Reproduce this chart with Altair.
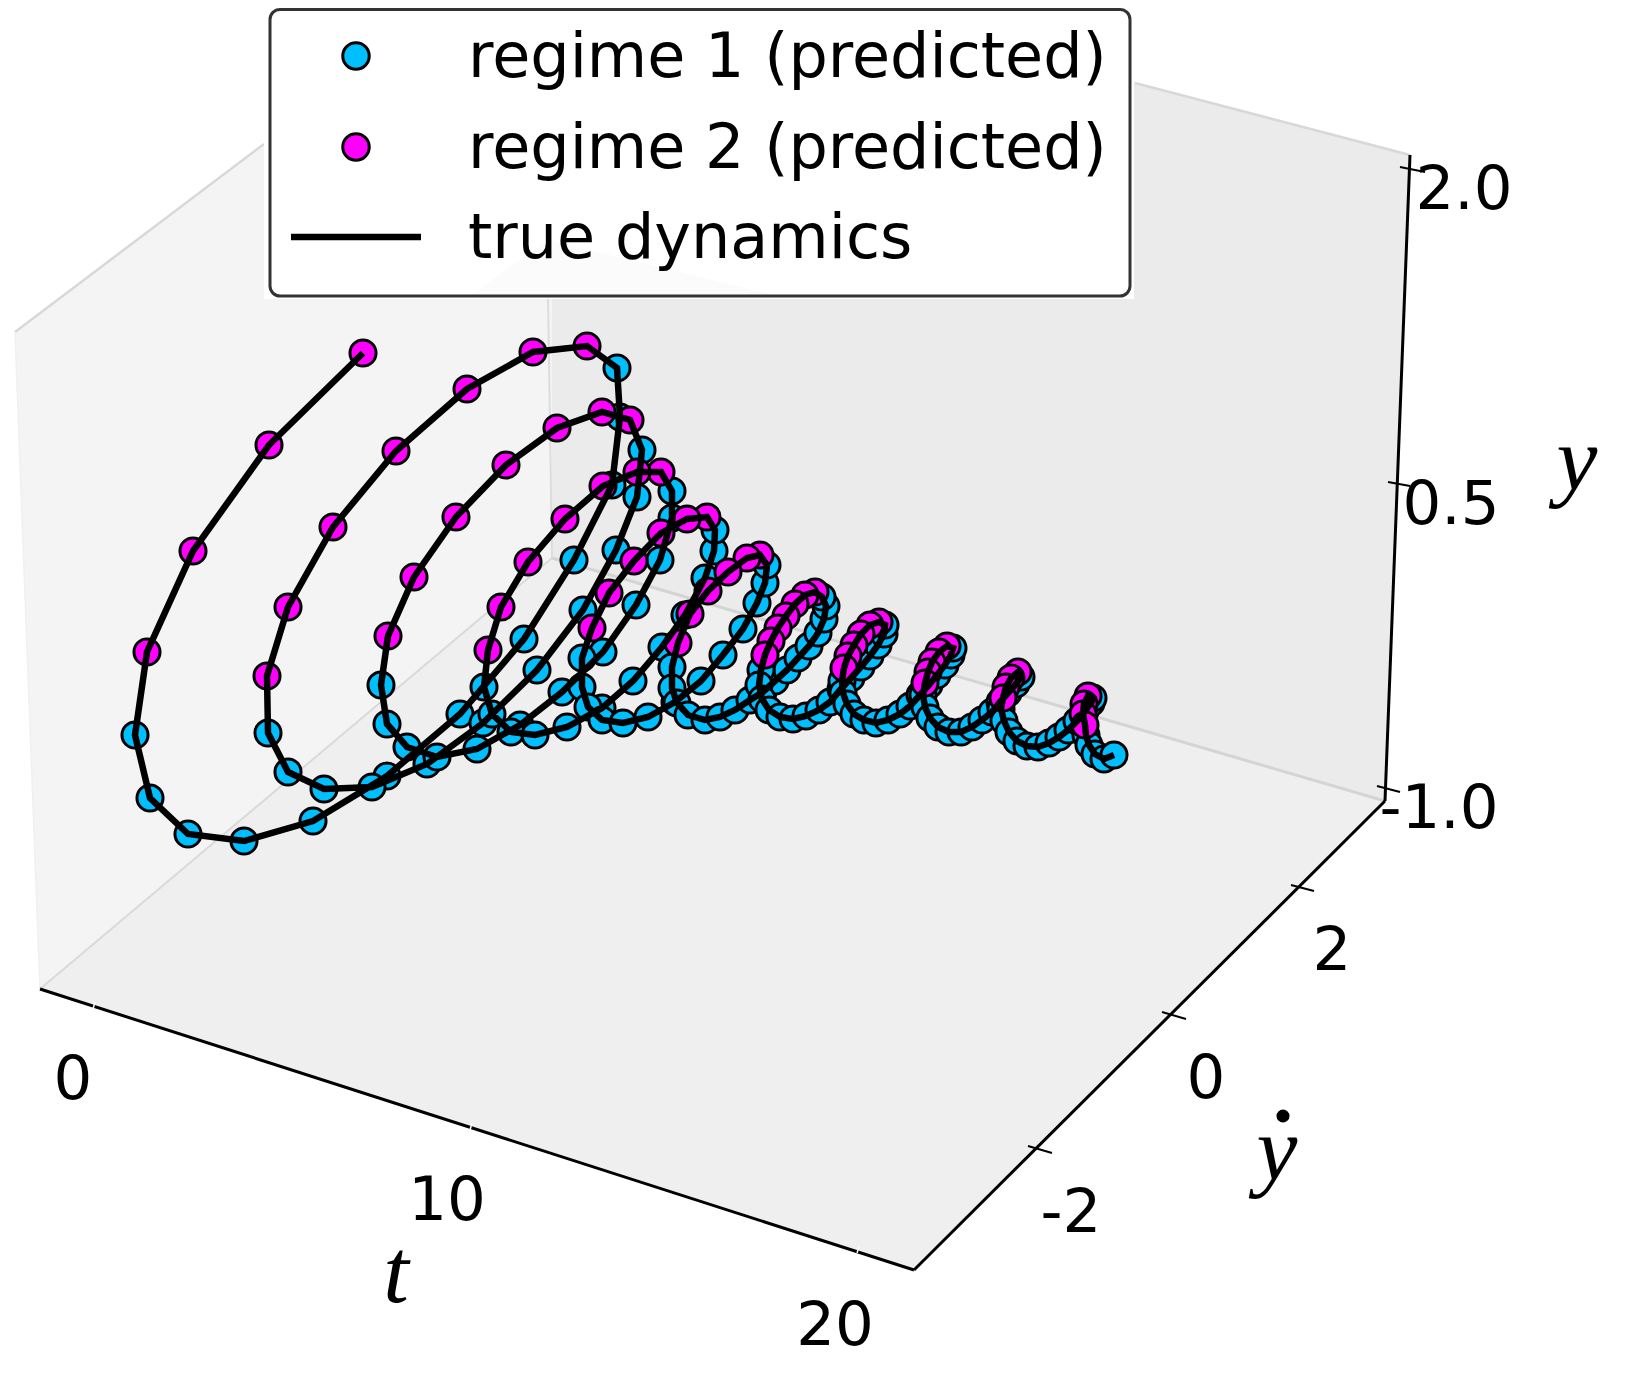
import altair as alt
import pandas as pd

# trajectory, in picture pixels: (x, y), split in runs by regime
runs = [
 ("2", [(363,353),(269,445),(193,551),(147,652)]),
 ("1", [(135,735),(150,798),(188,834),(244,841),(313,821),(387,776),(460,714),(524,639),(574,560),(612,485),(620,417),(617,368)]),
 ("2", [(587,346),(533,352),(467,389),(396,451),(333,527),(288,607),(267,676)]),
 ("1", [(268,733),(288,772),(324,789),(372,787),(427,764),(483,723),(537,670),(583,610),(616,550),(637,497),(642,450)]),
 ("2", [(630,420),(602,412),(557,428),(506,465),(456,517),(414,577),(388,636)]),
 ("1", [(381,685),(387,724),(407,747),(437,757),(477,749),(520,725),(562,692),(603,652),(636,605),(660,560),(672,518),(672,491)]),
 ("2", [(661,472),(637,472),(603,486),(565,519),(528,562),(501,607),(488,650)]),
 ("1", [(484,687),(492,714),(511,732),(535,735),(567,727),(602,708),(633,681),(662,647),(685,615),(705,578),(714,551),(715,530)]),
 ("2", [(707,517),(687,519),(661,533),(634,561),(609,593),(592,628)]),
 ("1", [(582,658),(582,687),(588,707),(602,720),(623,723),(648,717),(675,702),(701,681),(723,655),(743,629),(757,603),(765,583),(767,565)]),
 ("2", [(760,555),(747,558),(728,572),(708,591),(690,614),(678,643)]),
 ("1", [(672,667),(672,688),(677,703),(688,715),(705,720),(720,717),(735,710),(750,700),(763,692),(775,681),(787,670),(798,658),(809,646),(818,633),(824,619),(826,606),(822,597)]),
 ("2", [(815,592),(805,595),(795,604),(786,616),(778,628),(771,641),(765,655)]),
 ("1", [(761,670),(759,685),(762,699),(769,710),(780,717),(793,719),(806,716),(819,710),(830,702),(841,689),(851,678),(861,667),(870,656),(878,645),(884,634),(885,625)]),
 ("2", [(879,622),(870,625),(861,634),(854,645),(848,656),(844,668)]),
 ("1", [(842,681),(843,693),(847,704),(854,714),(864,720),(876,723),(888,720),(900,714),(910,706),(920,695),(929,685),(937,675),(945,665),(951,655),(953,648)]),
 ("2", [(947,646),(939,652),(932,662),(928,672),(925,683)]),
 ("1", [(923,695),(925,707),(930,718),(938,727),(949,732),(961,732),(972,727),(982,720),(992,712),(1000,702),(1008,693),(1016,684),(1021,677)]),
 ("2", [(1018,672),(1011,678),(1006,687),(1003,698)]),
 ("1", [(1001,709),(1004,721),(1009,732),(1017,741),(1027,746),(1038,747),(1049,743),(1059,737),(1068,730),(1077,721),(1085,711),(1091,703),(1093,698)]),
 ("2", [(1088,696),(1084,704),(1083,714),(1085,725)]),
 ("1", [(1086,735),(1089,745),(1095,754),(1104,759),(1114,755)]),
]

traj_x = [p[0] for r, pts in runs for p in pts]
traj_y = [p[1] for r, pts in runs for p in pts]
regime = [r for r, pts in runs for p in pts]
order = list(range(len(traj_x)))

# panes: x, upper edge, lower edge
left_pane = ([15, 40, 443, 552], [332, 313, 8, 8], [332, 989, 650, 558])
back_pane = ([552, 849, 1385, 1410], [8, 8, 148, 155], [558, 645, 801, 155])
floor_pane = ([40, 552, 914, 1385], [989, 558, 664, 801], [989, 1154, 1270, 801])
wedge_pane = ([470, 548, 777], [296, 240, 296], [296, 296, 296])

# line pieces: x, y, x2, y2, colour, width
pane_edges = [
 (15,332,264,144,"#d8d8d8",2.5),
 (15,332,40,989,"#f0f0f0",1.5),
 (40,989,552,558,"#dadada",2),
 (552,558,1385,801,"#d4d4d4",3),
 (552,558,548,296,"#dcdcdc",2),
 (1135,83,1410,155,"#d8d8d8",2.5),
]
axis_lines = [
 (40,989,914,1270,"#000000",3),
 (914,1270,1385,801,"#000000",3),
 (1385,801,1410,155,"#000000",3),
 (1400,167,1425,172,"#000000",2),
 (1388,482,1410,486,"#000000",2),
 (1377,786,1400,792,"#000000",2),
 (1291,885,1314,891,"#000000",2),
 (1162,1012,1186,1019,"#000000",2),
 (1028,1146,1052,1153,"#000000",2),
 (95,1002,93,1009,"#ffffff",1.5),
 (472,1123,470,1130,"#ffffff",1.5),
 (859,1247,857,1253,"#ffffff",1.5),
]
legend_line = [(291,237,421,237,"#000000",6.5)]

tick_text = ["2.0","0.5","-1.0","2","0","-2","0","10","20"]
tick_x = [1464,1451,1439,1332,1206,1071,73,447,835]
tick_y = [209,524,828,970,1098,1232,1099,1220,1345]

legend_text = ["regime 1 (predicted)","regime 2 (predicted)","true dynamics"]
legend_text_x = [468,468,468]
legend_text_y = [77,168,258]
legend_marker_x = [356,356]
legend_marker_y = [56,147]
legend_marker_regime = ["1","2"]

title_text = ["t","y","y"]
title_x = [396,1577,1277]
title_y = [1302,490,1180]
dot_x = [1283]
dot_y = [1116]

COLORS = {"1":"#00BFFF","2":"#FF00FF"}
W, H = 1617, 1376
xs = alt.Scale(domain=[8, 8+W], nice=False, zero=False)
ys = alt.Scale(domain=[8+H, 8], nice=False, zero=False)
X = lambda f: alt.X(f, type="quantitative", scale=xs, axis=None)
Y = lambda f: alt.Y(f, type="quantitative", scale=ys, axis=None)

def pane(p, color):
    df = pd.DataFrame({"x": p[0], "a": p[1], "b": p[2]})
    return alt.Chart(df).mark_area(color=color, opacity=1, interpolate="linear").encode(
        x=X("x"), y=Y("a"), y2=alt.Y2("b"))

def lines(rows):
    out = []
    for r in rows:
        df = pd.DataFrame([dict(x=r[0], y=r[1], x2=r[2], y2=r[3])])
        out.append(alt.Chart(df).mark_rule(color=r[4], strokeWidth=r[5]).encode(
            x=X("x"), y=Y("y"), x2=alt.X2("x2"), y2=alt.Y2("y2")))
    return out

def box(x0, x1, y0, y1, **kw):
    df = pd.DataFrame([dict(x=x0, x2=x1, y=y0, y2=y1)])
    return alt.Chart(df).mark_rect(**kw).encode(
        x=X("x"), x2=alt.X2("x2"), y=Y("y"), y2=alt.Y2("y2"))

traj = pd.DataFrame({"x": traj_x, "y": traj_y, "regime": regime, "order": order})
def dots(df, color):
    return alt.Chart(df).mark_circle(size=680, opacity=1, color=color, stroke="#000000", strokeWidth=3).encode(
        x=X("x"), y=Y("y"))

cyan = dots(traj[traj.regime == "1"], COLORS["1"])
magenta = dots(traj[traj.regime == "2"], COLORS["2"])
path = alt.Chart(traj).mark_line(color="#000000", strokeWidth=6.5, strokeJoin="miter").encode(
    x=X("x"), y=Y("y"), order="order:Q")

ticks = alt.Chart(pd.DataFrame({"x": tick_x, "y": tick_y, "t": tick_text})).mark_text(
    font="DejaVu Sans", fontSize=61, align="center", baseline="alphabetic", color="#000000").encode(
    x=X("x"), y=Y("y"), text="t:N")
titles = alt.Chart(pd.DataFrame({"x": title_x, "y": title_y, "t": title_text})).mark_text(
    font="Liberation Serif", fontStyle="italic", fontSize=92, align="center", baseline="alphabetic", color="#000000").encode(
    x=X("x"), y=Y("y"), text="t:N")
dot = alt.Chart(pd.DataFrame({"x": dot_x, "y": dot_y})).mark_circle(size=170, opacity=1, color="#000000").encode(
    x=X("x"), y=Y("y"))
leg_text = alt.Chart(pd.DataFrame({"x": legend_text_x, "y": legend_text_y, "t": legend_text})).mark_text(
    font="DejaVu Sans", fontSize=62, align="left", baseline="alphabetic", color="#000000").encode(
    x=X("x"), y=Y("y"), text="t:N")
leg_m = [alt.Chart(pd.DataFrame({"x": [x], "y": [y]})).mark_circle(
    size=700, opacity=1, color=COLORS[r], stroke="#000000", strokeWidth=3).encode(x=X("x"), y=Y("y"))
    for x, y, r in zip(legend_marker_x, legend_marker_y, legend_marker_regime)]

chart = alt.layer(
    pane(left_pane, "#f4f4f4"),
    pane(back_pane, "#ebebeb"),
    pane(floor_pane, "#efefef"),
    *lines(pane_edges),
    *lines(axis_lines),
    box(264, 1134, 8, 299, color="#ffffff"),
    pane(wedge_pane, "#fbfbfb"),
    box(270, 1130, 9.5, 296, fill="#ffffff", fillOpacity=0, stroke="#333333", strokeWidth=3, cornerRadius=10),
    cyan, magenta, path,
    ticks, titles, dot, leg_text, *leg_m, *lines(legend_line),
).properties(width=W, height=H, padding=0, autosize=alt.AutoSizeParams(type="none"), background="#ffffff"
).configure_view(stroke=None)

chart.save("out.html", embed_options={"renderer": "svg", "actions": False})
